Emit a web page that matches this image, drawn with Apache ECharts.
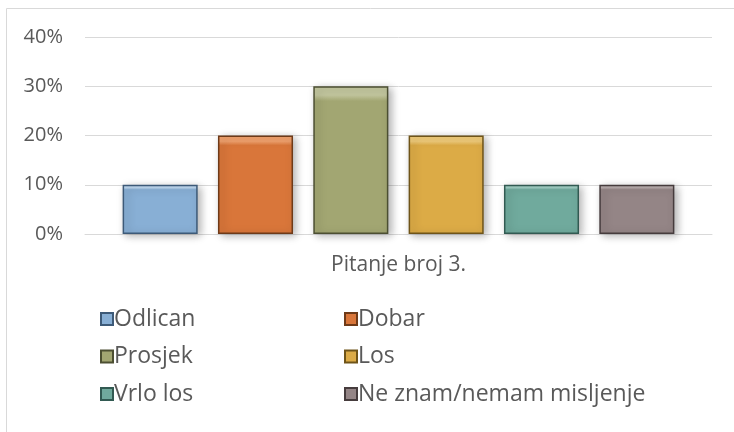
<!DOCTYPE html>
<html>
<head>
<meta charset="utf-8">
<script src="https://cdn.jsdelivr.net/npm/echarts@6/dist/echarts.min.js"></script>
<style>
  html, body { margin: 0; padding: 0; background: #fff; }
  #chart { width: 734px; height: 432px; }
</style>
</head>
<body>
<div id="chart"></div>
<script>
// chart data
const categories = ['Pitanje broj 3.']
const seriesNames = ['Odlican', 'Dobar', 'Prosjek', 'Los', 'Vrlo los', 'Ne znam/nemam misljenje']
const seriesValues = [0.1, 0.2, 0.3, 0.2, 0.1, 0.1]
const yTicks = [0, 0.1, 0.2, 0.3, 0.4]

// base colours: [top light, bottom, border]
const palette = [
    ['#bcd6ee', '#88afd5', '#3d5a78'],
    ['#f0a06c', '#d9763a', '#6e3a18'],
    ['#c2c69e', '#a2a672', '#4c4f32'],
    ['#efca78', '#dcab46', '#6f5418'],
    ['#9fcdc2', '#70aa9d', '#325a52'],
    ['#b6aaaa', '#948586', '#463c3d'],
]

const textColor = '#595959'
const fontFamily = '"Open Sans", Lato, sans-serif'

const chart = echarts.init(document.getElementById('chart'))

const series = seriesNames.map((name, i) => ({
    name: name,
    type: 'bar',
    data: [seriesValues[i]],
    barGap: '27%',
    barCategoryGap: '12%',
    itemStyle: {
        color: new echarts.graphic.LinearGradient(0, 0, 0, 1, [
            { offset: 0, color: palette[i][0] },
            { offset: 0.06, color: palette[i][0] },
            { offset: 0.1, color: palette[i][1] },
            { offset: 1, color: palette[i][1] },
        ]),
        borderColor: palette[i][2],
        borderWidth: 1.5,
        shadowColor: 'rgba(0,0,0,0.3)',
        shadowBlur: 8,
        shadowOffsetX: 3,
        shadowOffsetY: 2,
    },
}))

const legendCommon = {
    orient: 'vertical',
    top: 302,
    itemWidth: 12,
    itemHeight: 12,
    itemGap: 13.5,
    icon: 'rect',
    selectedMode: false,
    textStyle: { color: textColor, fontSize: 23, fontFamily: fontFamily, lineHeight: 24, padding: [0, 0, 0, -4] },
}

chart.setOption({
    animation: false,
    textStyle: { fontFamily: fontFamily },
    graphic: [{
        type: 'rect',
        shape: { x: 6.5, y: 8.5, width: 740, height: 440 },
        style: { fill: 'none', stroke: '#d9d9d9', lineWidth: 1 },
        silent: true,
    }],
    grid: { left: 85, right: 22, top: 37, bottom: 198 },
    xAxis: {
        type: 'category',
        data: categories,
        axisLine: { lineStyle: { color: '#d9d9d9', width: 1 } },
        axisTick: { show: false },
        axisLabel: { color: textColor, fontSize: 21, margin: 21, fontFamily: fontFamily },
    },
    yAxis: {
        type: 'value',
        min: yTicks[0],
        max: yTicks[yTicks.length - 1],
        interval: 0.1,
        axisLine: { show: false },
        axisTick: { show: false },
        splitLine: { lineStyle: { color: '#d9d9d9', width: 1 } },
        axisLabel: {
            color: textColor,
            fontSize: 20,
            margin: 22,
            fontFamily: fontFamily,
            formatter: v => Math.round(v * 100) + '%',
        },
    },
    legend: [
        Object.assign({}, legendCommon, { left: 95, data: [seriesNames[0], seriesNames[2], seriesNames[4]] }),
        Object.assign({}, legendCommon, { left: 339, data: [seriesNames[1], seriesNames[3], seriesNames[5]] }),
    ],
    series: series,
})
</script>
</body>
</html>
